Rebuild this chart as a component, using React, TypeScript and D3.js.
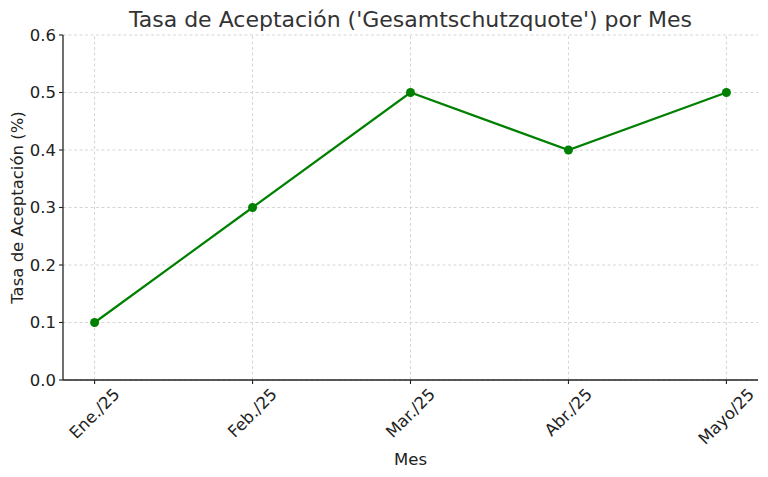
import React, { useEffect, useRef } from "react";
import * as d3 from "d3";

const months = ["Ene./25", "Feb./25", "Mar./25", "Abr./25", "Mayo/25"];
const rates = [0.1, 0.3, 0.5, 0.4, 0.5];
const yTicks = [0, 0.1, 0.2, 0.3, 0.4, 0.5, 0.6];

const W = 768;
const H = 477;
const M = { left: 63, right: 10, top: 35, bottom: 97 };
const FONT = "DejaVu Sans, sans-serif";
const FS = 16.5;

export default function App() {
  const ref = useRef<SVGSVGElement>(null);
  useEffect(() => {
    const svg = d3.select(ref.current!);
    svg.selectAll("*").remove();
    const x0 = M.left, x1 = W - M.right, y0 = H - M.bottom, y1 = M.top;
    const pad = (x1 - x0) / (months.length - 1 + 0.4) * 0.2;
    const x = d3.scalePoint<string>().domain(months).range([x0 + pad, x1 - pad]);
    const y = d3.scaleLinear().domain([0, 0.6]).range([y0, y1]);

    const g = svg.append("g");
    g.selectAll(".gy").data(yTicks).enter().append("line")
      .attr("x1", x0).attr("x2", x1).attr("y1", (d) => y(d)).attr("y2", (d) => y(d))
      .attr("stroke", "#cccccc").attr("stroke-width", 0.8).attr("stroke-dasharray", "3,2.5");
    g.selectAll(".gx").data(months).enter().append("line")
      .attr("x1", (d) => x(d)!).attr("x2", (d) => x(d)!).attr("y1", y0).attr("y2", y1)
      .attr("stroke", "#cccccc").attr("stroke-width", 0.8).attr("stroke-dasharray", "3,2.5");

    const line = d3.line<number>().x((_, i) => x(months[i])!).y((d) => y(d));
    g.append("path").datum(rates).attr("d", line).attr("fill", "none")
      .attr("stroke", "#008000").attr("stroke-width", 2.2);
    g.selectAll(".pt").data(rates).enter().append("circle")
      .attr("cx", (_, i) => x(months[i])!).attr("cy", (d) => y(d)).attr("r", 4.5)
      .attr("fill", "#008000");

    g.append("line").attr("x1", x0).attr("x2", x0).attr("y1", y0).attr("y2", y1)
      .attr("stroke", "#222").attr("stroke-width", 1.3);
    g.append("line").attr("x1", x0).attr("x2", x1).attr("y1", y0).attr("y2", y0)
      .attr("stroke", "#222").attr("stroke-width", 1.3);

    yTicks.forEach((t) => {
      g.append("line").attr("x1", x0 - 4).attr("x2", x0).attr("y1", y(t)).attr("y2", y(t))
        .attr("stroke", "#222").attr("stroke-width", 1.1);
      g.append("text").attr("x", x0 - 7).attr("y", y(t)).attr("dy", "0.36em")
        .attr("text-anchor", "end").attr("font-family", FONT).attr("font-size", FS)
        .attr("fill", "#222").text(t.toFixed(1));
    });
    months.forEach((m) => {
      const cx = x(m)!;
      g.append("line").attr("x1", cx).attr("x2", cx).attr("y1", y0).attr("y2", y0 + 4)
        .attr("stroke", "#222").attr("stroke-width", 1.1);
      const t = g.append("text").attr("font-family", FONT).attr("font-size", FS)
        .attr("fill", "#222").attr("text-anchor", "middle").attr("dominant-baseline", "central")
        .text(m);
      const w = (t.node() as SVGTextElement).getComputedTextLength();
      const h = FS * 0.95;
      const bh = (w + h) * Math.SQRT1_2;
      const cy = y0 + 6 + bh / 2;
      t.attr("x", cx).attr("y", cy).attr("transform", `rotate(-45 ${cx} ${cy})`);
    });

    svg.append("text").attr("x", (x0 + x1) / 2).attr("y", 26.5).attr("text-anchor", "middle")
      .attr("font-family", FONT).attr("font-size", 22).attr("fill", "#333")
      .text("Tasa de Aceptación ('Gesamtschutzquote') por Mes");
    svg.append("text").attr("x", (x0 + x1) / 2).attr("y", 465).attr("text-anchor", "middle")
      .attr("font-family", FONT).attr("font-size", FS).attr("fill", "#222").text("Mes");
    svg.append("text").attr("transform", `translate(23, ${(y0 + y1) / 2}) rotate(-90)`)
      .attr("text-anchor", "middle").attr("font-family", FONT).attr("font-size", FS)
      .attr("fill", "#222").text("Tasa de Aceptación (%)");
  }, []);
  return (
    <svg ref={ref} width={W} height={H}
      style={{ position: "absolute", left: 0, top: 0, background: "#fff" }} />
  );
}
